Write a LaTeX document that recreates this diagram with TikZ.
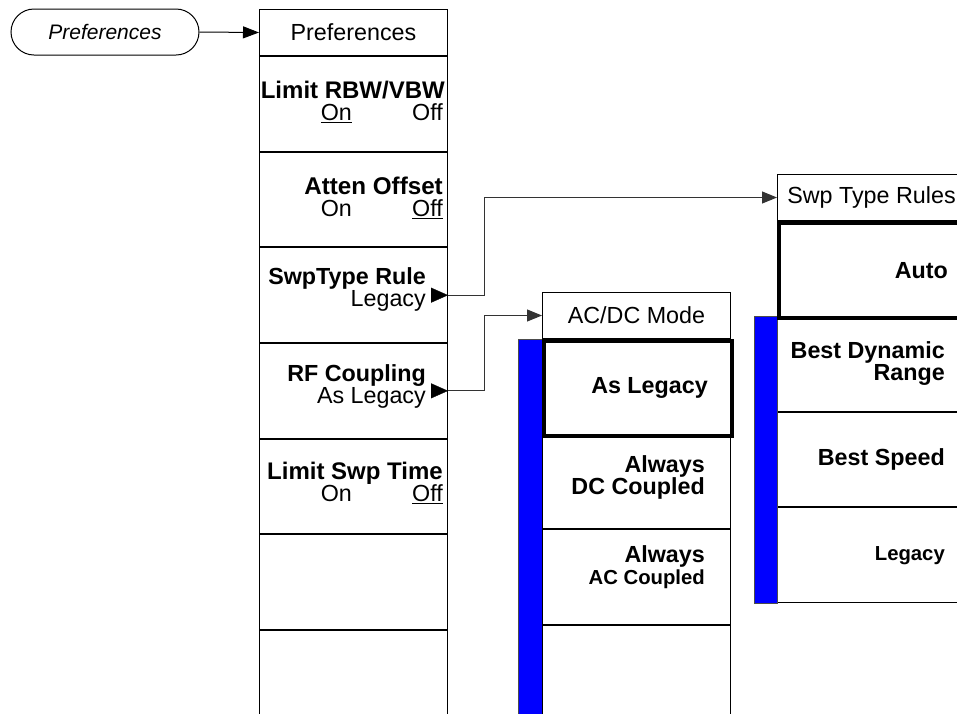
\documentclass[tikz,border=0pt]{standalone}
\usepackage{fontspec}
\setmainfont{Liberation Sans}
\usetikzlibrary{arrows.meta,calc}
\newcommand\fsN{\fontsize{23.3}{22}\selectfont}
\newcommand\fsS{\fontsize{20.3}{21}\selectfont}
\newcommand\fsW[1]{\fontsize{#1}{22}\selectfont}
\newcommand\onoffA{\fsN\mdseries\makebox[124pt][s]{\underline{On}\hfill Off\hspace{2pt}}}
\newcommand\onoffB{\fsN\mdseries\makebox[122pt][s]{On\hfill \underline{Off}}}
\tikzset{
  cell/.style={draw, line width=1pt, minimum width=188pt, minimum height=94.67pt, inner sep=0pt, anchor=north west},
  sel/.style={cell, line width=4pt},
  head/.style={draw, line width=1pt, minimum width=188pt, minimum height=46pt, inner sep=0pt, anchor=north west, font=\fsN},
  oval/.style={draw, line width=1pt, rounded corners=23pt, minimum width=188pt, minimum height=46pt, inner sep=0pt, font=\fontsize{21}{22}\selectfont\itshape},
  lbl/.style={anchor=east, align=right, inner sep=0pt, font=\fsN\bfseries},
  conn/.style={draw=black!80, line width=1pt, -{Triangle[length=15pt,width=12pt]}},
  subtip/.style={-{Triangle[length=17pt,width=15pt]}},
  bar/.style={fill=blue, draw=black!70, line width=0.6pt}
}
\begin{document}
\begin{tikzpicture}[x=1pt,y=-1pt]
\path[use as bounding box, clip] (0,0) rectangle (957,713);
% start key
\node[oval] (pref) at (105,32) {Preferences};
% main column
\node[head] (mh) at (259,9) {Preferences};
\node[cell] (m1) at (mh.south west) {};
\node[cell] (m2) at (m1.south west) {};
\node[cell] (m3) at (m2.south west) {};
\node[cell] (m4) at (m3.south west) {};
\node[cell] (m5) at (m4.south west) {};
\node[cell] (m6) at (m5.south west) {};
\node[cell] (m7) at (m6.south west) {};
\node[lbl] (t1) at ([xshift=-3pt,yshift=2pt]m1.east) {\fsW{24}Limit RBW/VBW\\\onoffA};
\node[lbl] (t2) at ([xshift=-5pt,yshift=2pt]m2.east) {\fsW{24.2}Atten Offset\\\onoffB};
\node[lbl] (t3) at ([xshift=-22pt,yshift=6pt]m3.east) {SwpType Rule\\\mdseries Legacy};
\node[lbl] (t4) at ([xshift=-22pt,yshift=4pt]m4.east) {RF Coupling\\\mdseries As Legacy};
\node[lbl] (t5) at ([xshift=-5pt,yshift=4pt]m5.east) {\fsW{24}Limit Swp Time\\\onoffB};
\draw[subtip] ([xshift=-17pt]m3.east) -- (m3.east);
\draw[subtip] ([xshift=-17pt]m4.east) -- (m4.east);
% AC/DC column
\node[head] (ah) at (542,292) {AC/DC Mode};
\fill[bar] (ah.south west) rectangle ++(-24,380);
\node[cell] (a2) at ($(ah.south west)+(0,94.67)$) {};
\node[cell] (a3) at (a2.south west) {};
\node[cell] (a4) at (a3.south west) {};
\node[sel] (a1) at (ah.south west) {};
\node[lbl] (u1) at ([xshift=-26pt]a1.east) {As Legacy};
\node[lbl] (u2) at ([xshift=-26pt,yshift=4pt]a2.east) {Always\\DC Coupled};
\node[lbl] (u3) at ([xshift=-26pt,yshift=10pt]a3.east) {Always\\\fsS AC Coupled};
% Swp Type Rules column
\node[head] (sh) at (777,174) {Swp Type Rules};
\node[cell] (s2) at ($(sh.south west)+(0,95)$) {};
\node[cell] (s3) at (s2.south west) {};
\node[cell] (s4) at (s3.south west) {};
\fill[bar] (s2.north west) rectangle ($(s4.south west)+(-23,0)$);
\node[sel] (s1) at (sh.south west) {};
\node[lbl] (v1) at ([xshift=-21pt]s1.east) {Auto};
\node[lbl] (v2) at ([xshift=-21pt]s2.east) {Best Dynamic\\Range};
\node[lbl] (v3) at ([xshift=-21pt]s3.east) {Best Speed};
\node[lbl, font=\fsS\bfseries] (v4) at ([xshift=-21pt]s4.east) {Legacy};
% connectors
\draw[conn, draw=black, -{Triangle[length=16pt,width=12pt]}] (pref.east) -- (mh.west);
\draw[conn] (m3.east) -- ++(36,0) |- (sh.west);
\draw[conn] (m4.east) -- ++(36,0) |- (ah.west);
\end{tikzpicture}
\end{document}
